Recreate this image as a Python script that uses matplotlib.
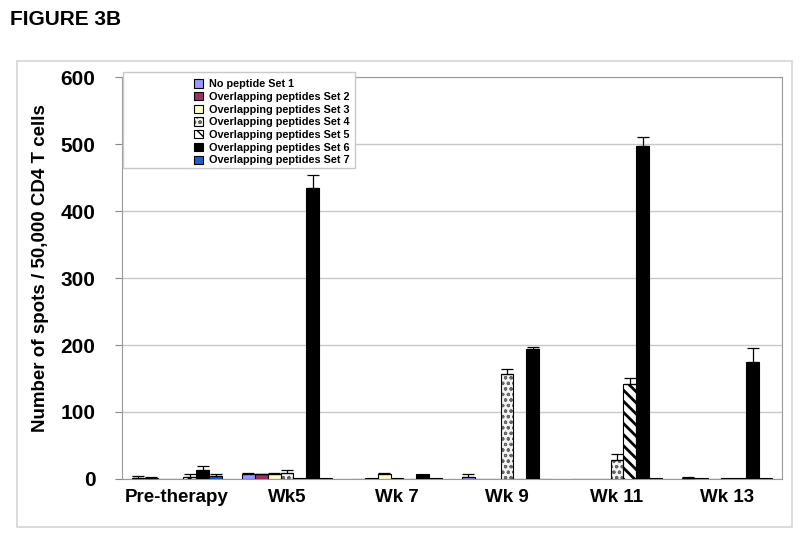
import numpy as np
import matplotlib.pyplot as plt
from matplotlib.patches import Rectangle

plt.rcParams['font.family'] = ['Liberation Sans', 'DejaVu Sans']
plt.rcParams['font.weight'] = 'bold'

# data
groups = ["Pre-therapy", "Wk5", "Wk 7", "Wk 9", "Wk 11", "Wk 13"]
labels = ["No peptide Set 1", "Overlapping peptides Set 2", "Overlapping peptides Set 3",
          "Overlapping peptides Set 4", "Overlapping peptides Set 5", "Overlapping peptides Set 6",
          "Overlapping peptides Set 7"]
set1 = [1, 8, 0, 3, 0, 2]
set2 = [1, 7, 1, 0, 0, 1]
set3 = [0, 8, 7, 0, 0, 0]
set4 = [0, 9, 2, 157, 29, 1]
set5 = [3, 2, 0, 0, 142, 1]
set6 = [14, 434, 7, 194, 497, 175]
set7 = [4, 1, 1, 0, 1, 1]
err1 = [4, 1, 0, 4, 0, 1]
err2 = [2, 1, 0, 0, 0, 0]
err3 = [0, 1, 2, 0, 0, 0]
err4 = [0, 4, 0, 7, 9, 0]
err5 = [4, 0, 0, 0, 9, 0]
err6 = [6, 20, 0, 3, 13, 20]
err7 = [3, 0, 0, 0, 0, 0]

values = [set1, set2, set3, set4, set5, set6, set7]
errors = [err1, err2, err3, err4, err5, err6, err7]

# styles: facecolor, hatch, hatch colour
styles = [("#9999FF", "", None),
          ("#993366", "", None),
          ("#FFFFCC", "", None),
          ("#f2f2f2", "ooo", "#666666"),
          ("white", "\\\\\\", "black"),
          ("black", "", None),
          ("#1F5FC8", "", None)]

fig = plt.figure(figsize=(8, 5.35), dpi=100)
ax = fig.add_axes([0.1525, 0.1047, 0.825, 0.7513])

# outer frame of the chart area
fig.patches.append(Rectangle((0.021, 0.015), 0.969, 0.871, transform=fig.transFigure,
                             fill=False, edgecolor="#d4d4d4", lw=1.2, zorder=0))

x = np.arange(len(groups))
w = 0.118
handles = []
for i, (vals, errs, (fc, hatch, hc)) in enumerate(zip(values, errors, styles)):
    pos = x + (i - 3) * w
    if hatch:
        with plt.rc_context({'hatch.linewidth': 2.0 if "\\" in hatch else 0.8}):
            b1 = ax.bar(pos, vals, w, color=fc, hatch=hatch, edgecolor=hc, linewidth=0, zorder=3)
        b2 = ax.bar(pos, vals, w, fill=False, edgecolor="black", linewidth=0.8, zorder=4)
        handles.append((b1, b2))
    else:
        b = ax.bar(pos, vals, w, color=fc, edgecolor="black", linewidth=0.8, zorder=3)
        handles.append(b)
    errs = np.array(errs)
    m = errs > 0
    ax.errorbar(pos[m], np.array(vals)[m], yerr=[np.zeros(m.sum()), errs[m]], fmt='none',
                ecolor='black', elinewidth=0.9, capsize=4, capthick=0.9, zorder=5)

ax.set_xlim(-0.5, 5.5)
ax.set_ylim(0, 600)
ax.set_yticks(range(0, 601, 100))
ax.set_xticks(x)
ax.set_xticklabels(groups, fontsize=13.5, fontweight='bold')
ax.tick_params(axis='x', length=0, pad=7)
ax.tick_params(axis='y', length=5, color="#888888", labelsize=15, pad=14)
for t in ax.get_yticklabels():
    t.set_fontweight('bold')
ax.grid(axis='y', color="#c8c8c8", lw=1, zorder=0)
for s in ax.spines.values():
    s.set_color("#999999")
ax.set_ylabel("Number of spots / 50,000 CD4 T cells", fontsize=13.5, fontweight='bold')
ax.yaxis.set_label_coords(-0.11, 0.525)

# legend box
ax.add_patch(Rectangle((0.154, 0.686), 0.29, 0.179, transform=fig.transFigure,
                       facecolor="white", edgecolor="#c8c8c8", lw=1, zorder=6, clip_on=False))
leg = ax.legend(handles, labels, loc='upper left', bbox_to_anchor=(0.236, 0.862),
                bbox_transform=fig.transFigure, frameon=False,
                handlelength=0.8, handleheight=0.8, handletextpad=0.6,
                labelspacing=0.25, borderpad=0, prop={'weight': 'bold', 'size': 7.8})
leg.set_zorder(7)

fig.text(0.0125, 0.982, "FIGURE 3B", fontsize=15, fontweight='bold', va='top', ha='left')

fig.savefig("out.png", dpi=100)
